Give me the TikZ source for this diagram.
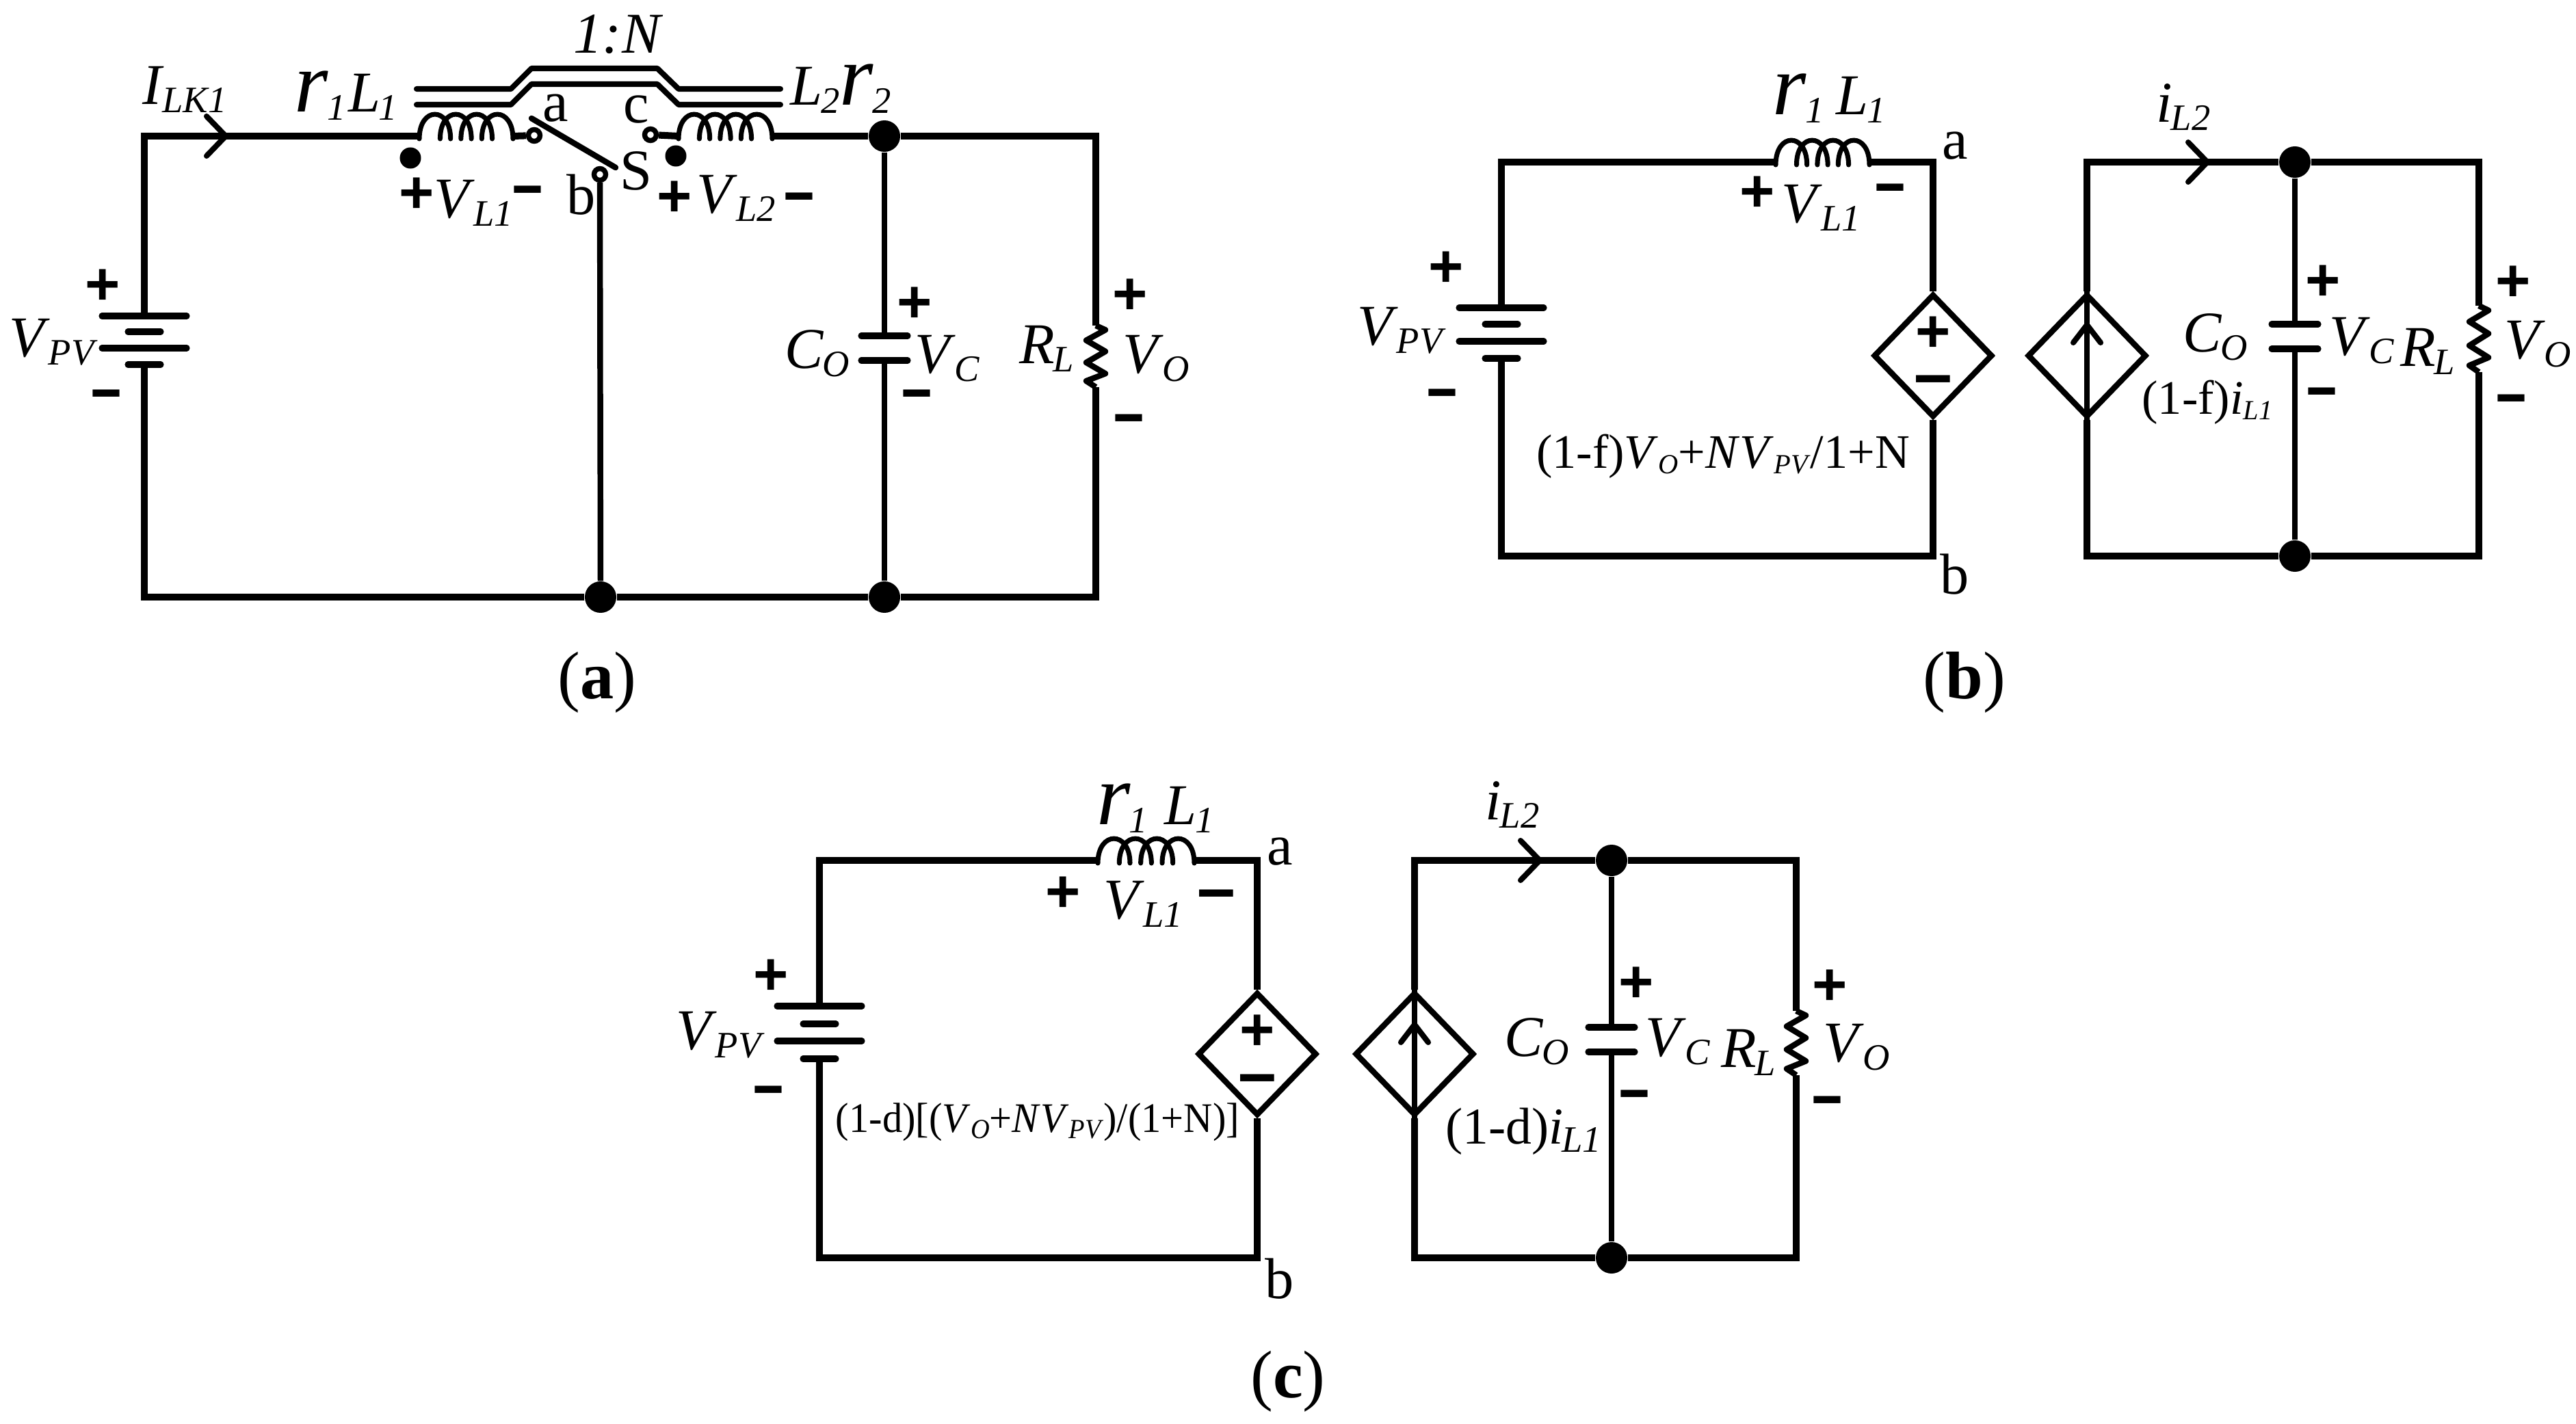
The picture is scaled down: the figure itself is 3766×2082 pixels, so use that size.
\documentclass[tikz,border=0pt]{standalone}
\usepackage{fontspec}
\setmainfont{Liberation Serif}
\newfontfamily\signfont{Liberation Sans}
\usetikzlibrary{shapes.geometric}
\newcommand\sbs[1]{\kern-0.6pt\raisebox{-3.4pt}{\fontsize{15.5}{15.5}\selectfont\textit{#1}}}
\newcommand\sbt[1]{\raisebox{-2.4pt}{\fontsize{11.5}{11.5}\selectfont\textit{#1}}}
\newcommand\vs[2]{\textit{#1}\sbs{#2}}
\newcommand\vt[2]{\textit{#1}\sbt{#2}}
\tikzset{
  x=0.01cm,y=-0.01cm,
  wire/.style={line width=2.85pt,line join=miter},
  plate/.style={line width=2.6pt,line cap=round},
  thinw/.style={line width=2.4pt,line join=round},
  core/.style={line width=2.3pt,line cap=round,line join=round},
  coilw/.style={line width=2pt,line cap=round},
  lab/.style={inner sep=0pt,font=\fontsize{24}{24}\selectfont},
  smalltxt/.style={inner sep=0pt,font=\fontsize{20}{20}\selectfont},
  captxt/.style={inner sep=0pt,font=\fontsize{28}{28}\selectfont},
  sgnp/.style={inner sep=0pt,anchor=base,font=\fontsize{25}{25}\selectfont\signfont\bfseries},
  sgnm/.style={inner sep=0pt,anchor=base,xscale=0.75,font=\fontsize{30}{30}\selectfont\signfont\bfseries},
  sgnw/.style={inner sep=0pt,anchor=base,xscale=0.95,font=\fontsize{30}{30}\selectfont\signfont\bfseries},
  jdot/.style={circle,fill=black,draw=none,inner sep=0pt,minimum size=0.46cm},
  pdot/.style={circle,fill=black,draw=none,inner sep=0pt,minimum size=0.31cm},
  contact/.style={circle,fill=white,draw=black,line width=2.1pt,inner sep=0pt,minimum size=0.17cm},
  dsrc/.style={diamond,draw=black,line width=2.4pt,inner sep=0pt,minimum width=1.74cm,minimum height=1.8cm},
}
% plus / minus glyph centred on a point
\newcommand\Pl[3]{\node[sgnp] (#1) at (#2,#3+31) {+};}
\newcommand\Mn[3]{\node[sgnm] (#1) at (#2,#3+28) {–};}
\newcommand\Mw[3]{\node[sgnw] (#1) at (#2,#3+28) {–};}
% battery: name x y1 y2 y3 y4
\newcommand\Batt[6]{%
  \coordinate (#1t) at (#2,#3);\coordinate (#1b) at (#2,#6);
  \draw[plate] (#2-62,#3)--(#2+62,#3);
  \draw[plate] (#2-24,#4)--(#2+24,#4);
  \draw[plate] (#2-62,#5)--(#2+62,#5);
  \draw[plate] (#2-24,#6)--(#2+24,#6);}
% capacitor: name x y1 y2
\newcommand\Capa[4]{%
  \coordinate (#1t) at (#2,#3);\coordinate (#1b) at (#2,#4);
  \draw[plate] (#2-34,#3)--(#2+34,#3);
  \draw[plate] (#2-34,#4)--(#2+34,#4);}
% resistor: name x y1 y2
\newcommand\Res[4]{%
  \coordinate (#1t) at (#2,#3);\coordinate (#1b) at (#2,#4);
  \pgfmathsetmacro\rs{(#4-#3)/5}
  \draw[thinw] (#1t)--(#2+14,#3+0.35*\rs)--(#2-14,#3+1.2*\rs)--(#2+14,#3+2.1*\rs)--(#2-14,#3+3*\rs)--(#2+14,#3+3.9*\rs)--(#2-14,#3+4.5*\rs)--(#1b);}
% coil: name x1 x2 y h
\newcommand\Coil[5]{%
  \coordinate (#1l) at (#2,#4);\coordinate (#1r) at (#3,#4);
  \pgfmathsetmacro\cd{(#3-#2)/4.5}
  \foreach \k in {0,1,2,3}{
    \pgfmathsetmacro\ca{#2+\k*\cd}
    \pgfmathsetmacro\cb{\ca+1.5*\cd}
    \draw[coilw] (\ca,#4+4) .. controls (\ca,#4-#5*1.33) and (\cb,#4-#5*1.33) .. (\cb,#4+4);
  }}
% chevron on a wire, pointing right
\newcommand\ChevR[2]{\draw[core] (#1-28,#2-29)--(#1,#2)--(#1-28,#2+29);}
\newcommand\ChevU[2]{\draw[core] (#1-20,#2+26)--(#1,#2)--(#1+20,#2+26);}
\begin{document}
\begin{tikzpicture}
\useasboundingbox (0,0) rectangle (3766,2082);
% ===================== (a) =====================
\coordinate (Atl) at (211,199);\coordinate (Abl) at (211,873);
\coordinate (Atr) at (1602,199);\coordinate (Abr) at (1602,873);
\Batt{Ab}{211}{462}{485}{509}{533}
\Capa{Ac}{1293}{491}{527}
\Res{Ar}{1602}{476}{566}
\Coil{AL}{613}{750}{199}{33}
\Coil{AM}{992}{1129}{199}{33}
\node[jdot] (Aj1) at (1293,199) {};
\node[jdot] (Aj2) at (1293,873) {};
\node[jdot] (Aj3) at (878,873) {};
\node[contact] (Ak1) at (781,198) {};
\node[contact] (Ak2) at (877,255) {};
\node[contact] (Ak3) at (951,197) {};
\coordinate (Asa) at (777,173);\coordinate (Asb) at (900,245);
\draw[wire] (Abt)--(Atl)--(ALl);
\draw[wire] (ALr)--(Ak1);
\draw[wire] (Ak3)--(AMl);
\draw[wire] (AMr)--(Aj1)--(Atr)--(Art);
\draw[wire] (Arb)--(Abr)--(Aj2)--(Aj3)--(Abl)--(Abb);
\draw[thinw] (Aj1)--(Act);
\draw[thinw] (Acb)--(Aj2);
\draw[thinw] (Ak2)--(Aj3);
\draw[thinw,line cap=round] (Asa)--(Asb);
\ChevR{330}{199}
\draw[core] (609,130)--(747,130)--(777,100)--(961,100)--(992,130)--(1141,130);
\draw[core] (609,153)--(747,153)--(777,123)--(961,123)--(992,153)--(1141,153);
\node[pdot] (Ad1) at (600,231) {};
\node[pdot] (Ad2) at (988,228) {};
\node[lab] (t1) at (270,131) {\vs{I}{LK1}};
\node[inner sep=0pt] (t2) at (506,140) {\fontsize{36}{36}\selectfont\textit{r}\sbs{1}\fontsize{24}{24}\selectfont\kern1pt\vs{L}{1}};
\node[lab] (t3) at (904,50) {\textit{1:N}};
\node[inner sep=0pt] (t4) at (1229,130) {\fontsize{24}{24}\selectfont\vs{L}{2}\fontsize{36}{36}\selectfont\textit{r}\sbs{2}};
\node[lab] (t5) at (812,158) {a};
\node[lab] (t6) at (930,160) {c};
\node[lab] (t7) at (850,285) {b};
\node[lab] (t8) at (930,250) {S};
\Pl{p1}{609}{280}\node[lab] (t9) at (692,297) {\vs{V}{L1}};\Mn{m1}{771}{277}
\Pl{p2}{986}{285}\node[lab] (t10) at (1076,290) {\vs{V}{L2}};\Mn{m2}{1168}{287}
\Pl{p3}{150}{414}\node[lab] (t11) at (78,500) {\vs{V}{PV}};\Mn{m3}{155}{575}
\Pl{p4}{1337}{440}\node[lab] (t12) at (1195,517) {\vs{C}{O}};\Mn{m4}{1340}{575}
\node[lab] (t13) at (1385,524) {\vs{V}{C}};
\node[lab] (t14) at (1530,510) {\vs{R}{L}};
\Pl{p5}{1652}{428}\node[lab] (t15) at (1690,524) {\vs{V}{O}};\Mn{m5}{1650}{611}
\node[captxt] (ca) at (873,998) {(\textbf{a})};
% ===================== (b) =====================
\coordinate (Btl) at (2195,237);\coordinate (Bbl) at (2195,813);
\coordinate (Bm) at (2826,237);\coordinate (Bmb) at (2826,813);
\coordinate (Bsl) at (3051,237);\coordinate (Bsb) at (3051,813);
\coordinate (Btr) at (3624,237);\coordinate (Bbr) at (3624,813);
\Batt{Bb}{2195}{450}{474}{499}{524}
\Capa{Bc}{3355}{474}{510}
\Res{Br}{3624}{447}{544}
\Coil{BL}{2596}{2733}{237}{33}
\node[dsrc] (Bd1) at (2826,520) {};
\node[dsrc] (Bd2) at (3051,520) {};
\node[jdot] (Bj1) at (3355,237) {};
\node[jdot] (Bj2) at (3355,813) {};
\draw[wire] (Bbt)--(Btl)--(BLl);
\draw[wire] (BLr)--(Bm)--(Bd1.north);
\draw[wire] (Bd1.south)--(Bmb)--(Bbl)--(Bbb);
\draw[wire] (Bd2.north)--(Bsl)--(Bj1)--(Btr)--(Brt);
\draw[wire] (Brb)--(Bbr)--(Bj2)--(Bsb)--(Bd2.south);
\draw[thinw] (Bd2.south)--(Bd2.north);
\ChevU{3051}{475}
\draw[thinw] (Bj1)--(Bct);
\draw[thinw] (Bcb)--(Bj2);
\ChevR{3227}{237}
\node[inner sep=0pt] (u1) at (2674,144) {\fontsize{36}{36}\selectfont\textit{r}\sbs{1}\fontsize{24}{24}\selectfont\kern5pt\vs{L}{1}};
\node[lab] (u2) at (2858,213) {a};
\node[lab] (u3) at (2858,840) {b};
\Pl{q1}{2569}{279}\node[lab] (u4) at (2662,304) {\vs{V}{L1}};\Mn{n1}{2763}{274}
\Pl{q2}{2114}{388}\node[lab] (u5) at (2049,483) {\vs{V}{PV}};\Mn{n2}{2108}{574}
\Pl{q3}{2826}{483}\Mw{n3}{2826}{554}
\node[smalltxt] (u6) at (2519,667) {(1-f)\vt{V}{O}+\textit{N}\vt{V}{PV}/1+N};
\node[lab] (u7) at (3192,157) {\vs{i}{L2}};
\node[smalltxt] (u8) at (3227,588) {(1-f)\vt{i}{L1}};
\Pl{q4}{3396}{408}\Mn{n4}{3394}{572}
\node[lab] (u9) at (3239,493) {\vs{C}{O}};
\node[lab] (u10) at (3453,498) {\vs{V}{C}};
\node[lab] (u11) at (3549,514) {\vs{R}{L}};
\Pl{q5}{3674}{409}\node[lab] (u12) at (3710,503) {\vs{V}{O}};\Mn{n5}{3671}{582}
\node[captxt] (cb) at (2872,998) {(\textbf{b})};
% ===================== (c) =====================
\coordinate (Ctl) at (1198,1258);\coordinate (Cbl) at (1198,1839);
\coordinate (Cm) at (1838,1258);\coordinate (Cmb) at (1838,1839);
\coordinate (Csl) at (2068,1258);\coordinate (Csb) at (2068,1839);
\coordinate (Ctr) at (2626,1258);\coordinate (Cbr) at (2626,1839);
\Batt{Cb}{1198}{1471}{1497}{1522}{1548}
\Capa{Cc}{2356}{1502}{1538}
\Res{Cr}{2626}{1478}{1572}
\Coil{CL}{1605}{1746}{1258}{33}
\node[dsrc] (Cd1) at (1838,1541) {};
\node[dsrc] (Cd2) at (2068,1541) {};
\node[jdot] (Cj1) at (2356,1258) {};
\node[jdot] (Cj2) at (2356,1839) {};
\draw[wire] (Cbt)--(Ctl)--(CLl);
\draw[wire] (CLr)--(Cm)--(Cd1.north);
\draw[wire] (Cd1.south)--(Cmb)--(Cbl)--(Cbb);
\draw[wire] (Cd2.north)--(Csl)--(Cj1)--(Ctr)--(Crt);
\draw[wire] (Crb)--(Cbr)--(Cj2)--(Csb)--(Cd2.south);
\draw[thinw] (Cd2.south)--(Cd2.north);
\ChevU{2068}{1498}
\draw[thinw] (Cj1)--(Cct);
\draw[thinw] (Ccb)--(Cj2);
\ChevR{2251}{1258}
\node[inner sep=0pt] (w1) at (1689,1182) {\fontsize{36}{36}\selectfont\textit{r}\sbs{1}\fontsize{24}{24}\selectfont\kern7pt\vs{L}{1}};
\node[lab] (w2) at (1871,1245) {a};
\node[lab] (w3) at (1871,1870) {b};
\Pl{r1}{1554}{1302}\node[lab] (w4) at (1671,1322) {\vs{V}{L1}};\Mw{s1}{1778}{1306}
\Pl{r2}{1127}{1423}\node[lab] (w5) at (1053,1513) {\vs{V}{PV}};\Mn{s2}{1123}{1593}
\Pl{r3}{1838}{1504}\Mw{s3}{1838}{1576}
\node[inner sep=0pt,xscale=0.95,font=\fontsize{17.5}{18}\selectfont] (w6) at (1517,1641) {(1-d)[(\vt{V}{O}+\textit{N}\vt{V}{PV})/(1+N)]};
\node[lab] (w7) at (2211,1177) {\vs{i}{L2}};
\node[lab] (w8) at (2227,1654) {\fontsize{21.5}{22}\selectfont (1-d)\vs{i}{L1}};
\Pl{r4}{2392}{1434}\Mn{s4}{2389}{1599}
\node[lab] (w9) at (2247,1523) {\vs{C}{O}};
\node[lab] (w10) at (2453,1523) {\vs{V}{C}};
\node[lab] (w11) at (2556,1539) {\vs{R}{L}};
\Pl{r5}{2675}{1438}\node[lab] (w12) at (2714,1531) {\vs{V}{O}};\Mn{s5}{2671}{1608}
\node[captxt] (cc) at (1883,2020) {(\textbf{c})};
\end{tikzpicture}
\end{document}
